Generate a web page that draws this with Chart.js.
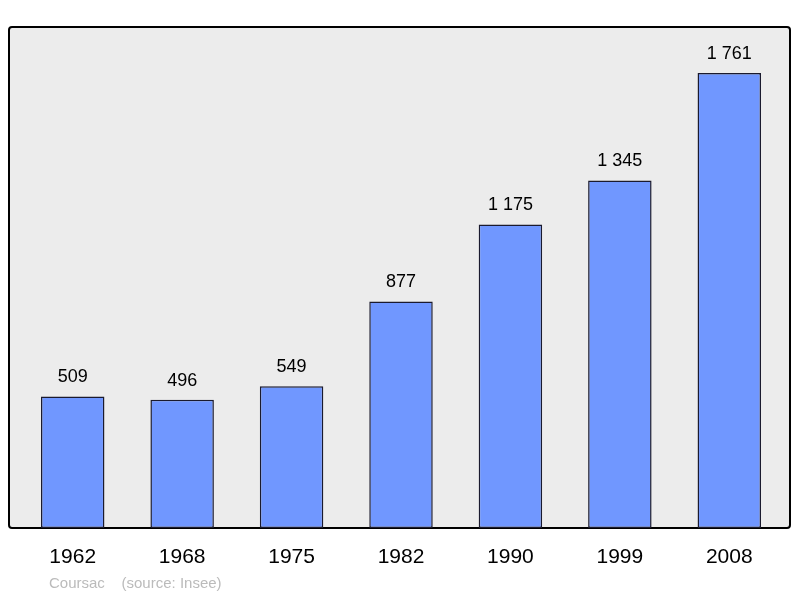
<!DOCTYPE html>
<html><head><meta charset="utf-8">
<script src="https://cdn.jsdelivr.net/npm/chart.js@4"></script>
<style>html,body{margin:0;padding:0;background:#fff}</style>
</head><body>
<canvas id="c" width="800" height="598"></canvas>
<script>
const years = ["1962", "1968", "1975", "1982", "1990", "1999", "2008"];
const population = [509, 496, 549, 877, 1175, 1345, 1761];
const valueLabels = ["509", "496", "549", "877", "1 175", "1 345", "1 761"];

const frame = {
  id: 'frame',
  beforeDraw(chart) {
    const ctx = chart.ctx;
    ctx.save();
    ctx.fillStyle = '#ececec';
    ctx.strokeStyle = '#000';
    ctx.lineWidth = 2;
    ctx.beginPath();
    ctx.roundRect(9, 27, 781, 501, 3);
    ctx.fill();
    ctx.stroke();
    ctx.restore();
  },
  afterDatasetsDraw(chart) {
    const ctx = chart.ctx;
    const x = chart.scales.x, y = chart.scales.y;
    ctx.save();
    ctx.fillStyle = '#000';
    ctx.textAlign = 'center';
    ctx.font = '18px "Liberation Sans", Arial, sans-serif';
    ctx.textBaseline = 'bottom';
    population.forEach((v, i) => {
      ctx.fillText(valueLabels[i], x.getPixelForValue(i), y.getPixelForValue(v) - 10);
    });
    ctx.font = '21px "Liberation Sans", Arial, sans-serif';
    ctx.textBaseline = 'middle';
    years.forEach((t, i) => ctx.fillText(t, x.getPixelForValue(i), 557));
    ctx.fillStyle = '#bbbbbb';
    ctx.textAlign = 'left';
    ctx.font = '15px "Liberation Sans", Arial, sans-serif';
    ctx.fillText('Coursac    (source: Insee)', 49, 584);
    ctx.restore();
  }
};

new Chart(document.getElementById('c'), {
  type: 'bar',
  data: {
    labels: years,
    datasets: [{
      data: population,
      backgroundColor: '#7097ff',
      borderColor: '#1a1a2e',
      borderWidth: 1.5,
      borderSkipped: false,
      barPercentage: 0.58,
      categoryPercentage: 1
    }]
  },
  options: {
    responsive: false,
    animation: false,
    layout: { padding: { left: 18, right: 16, top: 27, bottom: 70 } },
    plugins: { legend: { display: false }, tooltip: { enabled: false } },
    scales: {
      x: { display: false },
      y: { display: false, min: 0, max: 1939 }
    }
  },
  plugins: [frame]
});
</script>
</body></html>
